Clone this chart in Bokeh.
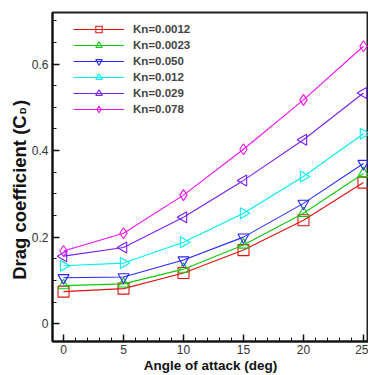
import math
from bokeh.plotting import figure
from bokeh.models import Range1d, Legend, LegendItem, LinearAxis, FixedTicker
from bokeh.embed import file_html
from bokeh.resources import INLINE

angles = [0, 5, 10, 15, 20, 25]
kn_labels = ["Kn=0.0012", "Kn=0.0023", "Kn=0.050", "Kn=0.012", "Kn=0.029", "Kn=0.078"]
cd_kn0012 = [0.074, 0.081, 0.117, 0.170, 0.239, 0.326]
cd_kn0023 = [0.088, 0.092, 0.126, 0.182, 0.255, 0.347]
cd_kn050 = [0.106, 0.108, 0.147, 0.200, 0.278, 0.370]
cd_kn012 = [0.134, 0.140, 0.188, 0.255, 0.340, 0.439]
cd_kn029 = [0.156, 0.176, 0.246, 0.331, 0.425, 0.533]
cd_kn078 = [0.168, 0.209, 0.297, 0.403, 0.517, 0.641]
x_ticks = [0, 5, 10, 15, 20, 25]
y_ticks = [0, 0.2, 0.4, 0.6]
x_title = "Angle of attack (deg)"
y_title = "Drag coefficient (C\u2002)" + "\u00a0" * 5
y_title_sub = "\u00a0" * 53 + "D"

series = [cd_kn0012, cd_kn0023, cd_kn050, cd_kn012, cd_kn029, cd_kn078]
colors = ["#e01010", "#10c810", "#2828ff", "#00f0f0", "#7a20f0", "#f010f0"]
markers = [("square", 0), ("triangle", 0), ("inverted_triangle", 0),
           ("triangle", -math.pi / 2), ("triangle", math.pi / 2), ("diamond", 0)]

p = figure(width=368, height=375, output_backend="svg", toolbar_location=None,
           x_range=Range1d(-0.92, 25.42), y_range=Range1d(-0.0412, 0.719),
           min_border_left=52, min_border_right=0, min_border_top=12, min_border_bottom=31)
p.background_fill_color = "white"
p.border_fill_color = "white"
p.grid.visible = False
p.outline_line_color = "#222222"
p.outline_line_width = 2

for ax in (p.xaxis[0], p.yaxis[0]):
    ax.axis_line_width = 2
    ax.axis_line_color = "#111111"
    ax.major_tick_in = 7
    ax.major_tick_out = 0
    ax.minor_tick_in = 4
    ax.minor_tick_out = 0
    ax.major_tick_line_width = 1.5
    ax.minor_tick_line_width = 1
    ax.major_tick_line_color = "#111111"
    ax.minor_tick_line_color = "#111111"
    ax.major_label_text_font = "Liberation Sans"
    ax.major_label_text_font_size = "12px"
    ax.major_label_text_color = "#333333"
    ax.axis_label_text_font = "Liberation Sans"
    ax.axis_label_text_font_style = "bold"
    ax.axis_label_text_color = "#111111"

p.xaxis.ticker = FixedTicker(ticks=x_ticks, minor_ticks=list(range(0, 26)))
p.yaxis.ticker = FixedTicker(ticks=y_ticks, minor_ticks=[i * 0.05 for i in range(0, 15)])
p.xaxis.axis_label = x_title
p.xaxis.axis_label_text_font_size = "13.5px"
p.xaxis.major_label_standoff = 3
p.xaxis.axis_label_standoff = 1
p.yaxis.axis_label = y_title
p.yaxis.axis_label_text_font_size = "18.5px"
p.yaxis.major_label_standoff = 4
p.yaxis.axis_label_standoff = -1
p.yaxis.major_label_orientation = "horizontal"

# subscript of the y title, carried by a label-only axis
sub_axis = LinearAxis(ticker=FixedTicker(ticks=[]), axis_line_alpha=0,
                      major_tick_in=0, major_tick_out=0, minor_tick_in=0, minor_tick_out=0,
                      axis_label=y_title_sub, axis_label_standoff=-22,
                      axis_label_text_font="Liberation Sans",
                      axis_label_text_font_style="bold",
                      axis_label_text_font_size="9px",
                      axis_label_text_color="#111111")
p.add_layout(sub_axis, "left")

items = []
for vals, col, (mk, ang), lab in zip(series, colors, markers, kn_labels):
    r1 = p.line(angles, vals, line_color=col, line_width=1.1)
    r2 = p.scatter(angles, vals, marker=mk, angle=ang, size=11, line_color=col,
                   line_width=1.1, fill_alpha=0)
    items.append(LegendItem(label=lab, renderers=[r1, r2]))

legend = Legend(items=items, location=(21, 224), padding=0, margin=0,
                glyph_width=51, glyph_height=16, spacing=0, label_standoff=9,
                label_text_font="Liberation Sans", label_text_font_style="bold",
                label_text_font_size="11.5px", label_height=12,
                background_fill_alpha=0, border_line_alpha=0)
p.add_layout(legend, "center")

open("out.html", "w").write(file_html(p, INLINE))
